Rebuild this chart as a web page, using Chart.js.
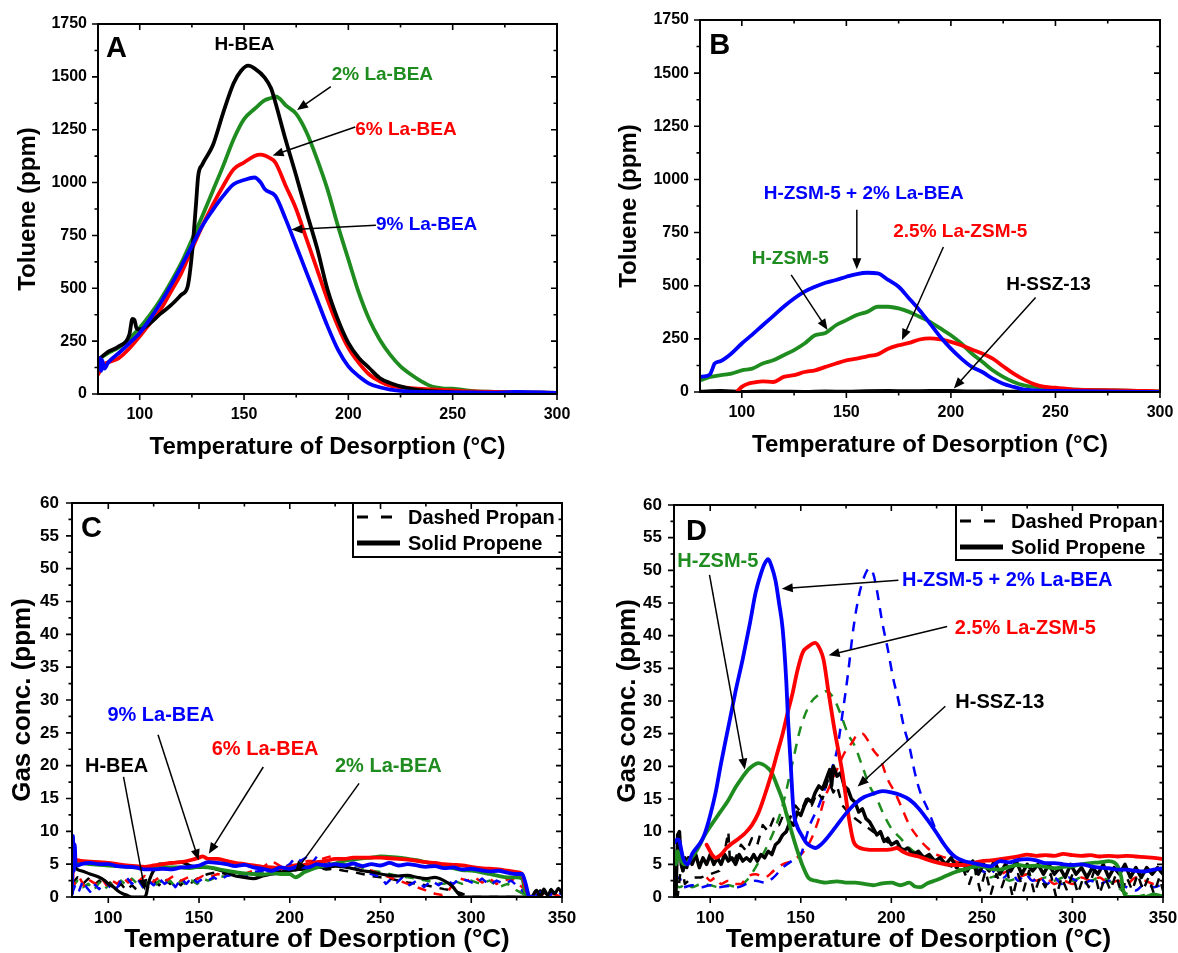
<!DOCTYPE html>
<html><head><meta charset="utf-8">
<script src="https://cdn.jsdelivr.net/npm/chart.js@4.4.1/dist/chart.umd.min.js"></script>
<style>
html,body{margin:0;padding:0;background:#fff;}
body{width:1178px;height:953px;position:relative;overflow:hidden;}
canvas{position:absolute;}
</style></head><body>
<canvas id="cA" width="589" height="470" style="left:0px;top:0px;width:589px;height:470px"></canvas>
<canvas id="cB" width="589" height="470" style="left:589px;top:0px;width:589px;height:470px"></canvas>
<canvas id="cC" width="589" height="480" style="left:0px;top:476px;width:589px;height:480px"></canvas>
<canvas id="cD" width="589" height="480" style="left:589px;top:476px;width:589px;height:480px"></canvas>
<script>
// ---------------- DATA: [temperature (°C), concentration (ppm)] ----------------
// Panel A – toluene
const A_HBEA = [[81,170],[85,200],[90,226],[95,280],[96.5,355],[97.5,350],[98.5,310],[100,305],[105,335],[110,380],[115,420],[120,470],[123,510],[125,660],[127,900],[128,1030],[130,1085],[135,1175],[140,1330],[145,1470],[148.6,1529],[152,1553],[155,1540],[160,1495],[163,1445],[165,1380],[170,1200],[175,1032],[180,858],[185,690],[190,494],[195,352],[200,242],[205,171],[210,123],[215,76],[220,52],[225,36],[230,24],[240,13],[250,8],[260,6],[280,4],[300,3]];
const A_La2 = [[82,175],[85,195],[90,220],[95,262],[100,313],[105,375],[110,447],[115,530],[120,621],[125,730],[130,842],[135,960],[140,1079],[145,1205],[150,1300],[155,1348],[160,1390],[163,1400],[165,1407],[167,1398],[170,1365],[175,1325],[180,1237],[185,1111],[190,968],[195,795],[200,637],[205,479],[210,352],[215,258],[220,186],[225,131],[230,92],[235,60],[240,35],[245,27],[250,25],[260,13],[270,10],[280,8],[300,5]];
const A_La6 = [[80,92],[81,110],[82,135],[85,150],[90,170],[95,215],[100,273],[105,335],[110,400],[115,485],[120,573],[125,685],[130,795],[135,895],[140,984],[145,1063],[150,1095],[155,1126],[158,1132],[162,1118],[165,1095],[170,984],[175,874],[180,731],[185,589],[190,447],[195,321],[200,218],[205,147],[210,92],[215,60],[220,39],[230,28],[240,22],[250,17],[260,12],[280,8],[300,5]];
const A_La9 = [[80.5,120],[81,170],[81.5,110],[82,160],[83,120],[85,150],[90,194],[95,240],[100,289],[105,355],[110,431],[115,515],[120,605],[125,700],[130,795],[135,870],[140,937],[145,992],[150,1012],[155,1024],[158,1000],[160,968],[165,937],[170,826],[175,700],[180,573],[185,447],[190,321],[195,210],[200,131],[205,84],[210,49],[215,32],[220,21],[230,11],[250,8],[270,6],[280,10],[300,5]];
// Panel B – toluene
const B_HZSM5_LaBEA = [[80,71],[83,75],[85,86],[86,110],[87,134],[90,146],[95,181],[100,228],[105,270],[110,314],[115,357],[120,401],[125,440],[130,472],[135,495],[140,514],[145,527],[150,542],[155,555],[160,561],[165,558],[170,527],[175,495],[180,440],[185,385],[190,322],[195,259],[200,204],[205,157],[210,118],[215,94],[220,63],[225,39],[230,24],[235,11],[240,8],[250,5],[260,4],[280,2],[300,0]];
const B_HZSM5 = [[80,55],[85,71],[90,79],[95,86],[100,102],[105,110],[110,134],[115,149],[120,173],[125,197],[130,228],[135,267],[140,278],[145,314],[150,338],[155,362],[160,377],[165,401],[170,401],[175,393],[180,377],[185,354],[190,330],[195,299],[200,267],[205,228],[210,181],[215,142],[220,102],[225,71],[230,47],[235,31],[240,24],[250,16],[260,11],[280,8],[300,2]];
const B_LaZSM5 = [[98,5],[100,24],[103,39],[106,45],[110,50],[115,47],[120,71],[125,79],[130,94],[135,102],[140,118],[145,134],[150,149],[155,157],[160,168],[165,177],[170,204],[175,220],[180,231],[185,247],[190,252],[195,247],[200,236],[205,220],[210,200],[215,181],[220,157],[225,121],[230,86],[235,58],[240,36],[245,24],[250,20],[255,16],[260,11],[280,8],[300,3]];
const B_HSSZ13 = [[80,3],[90,6],[100,2],[110,4],[120,3],[130,2],[140,4],[150,3],[160,5],[170,6],[180,5],[190,7],[200,6],[210,4],[220,5],[230,3],[240,4],[250,2],[260,3],[280,2],[300,1]];
// Panel C – BEA series, propene (solid) and propane (dashed)
const C_La9_propene = [[80,0.5],[80.5,9.3],[81,4],[81.5,8],[82,5],[83,4.8],[85,5],[90,5.2],[95,5],[100,5],[105,4.7],[110,4.6],[115,4.5],[120,4.2],[125,4.2],[130,4.3],[135,4.2],[140,4.5],[145,4.6],[150,4.8],[155,5.3],[160,5.2],[165,5],[170,4.7],[175,4.9],[180,4.5],[185,4.3],[190,4],[195,4.5],[200,4.3],[205,4.7],[210,4.5],[215,5],[220,4.8],[225,5],[230,4.8],[235,5.1],[240,4.7],[245,5],[250,4.8],[255,5.2],[260,4.8],[265,5],[270,4.8],[275,4.6],[280,4.7],[285,4.4],[290,4.5],[295,4.2],[300,4.3],[305,4.1],[310,3.9],[315,4],[320,3.7],[325,3.5],[328,3.5],[330,2],[332,0],[334,0]];
const C_La6_propene = [[80,2],[81,5.5],[83,5.6],[85,5.5],[90,5.4],[95,5.3],[100,5.2],[105,5],[110,4.8],[115,4.7],[120,4.6],[125,4.8],[130,5],[135,5.2],[140,5.3],[145,5.6],[150,6],[152,6.2],[155,5.8],[160,5.8],[165,5.5],[170,5.2],[175,5],[180,4.8],[185,4.6],[190,4.5],[195,4.4],[200,4.5],[205,4.7],[210,5],[215,5.3],[220,5.5],[225,5.8],[230,5.8],[235,6],[240,6],[245,6],[250,6],[255,5.9],[260,5.8],[265,5.7],[270,5.5],[275,5.3],[280,5.2],[285,5],[290,4.9],[295,4.8],[300,4.6],[305,4.4],[310,4.3],[315,4.2],[320,4],[325,3.8],[328,3.5],[330,1.5],[332,0]];
const C_La2_propene = [[80,5],[82,5.3],[85,5.2],[90,5],[95,4.9],[100,4.8],[105,4.7],[110,4.6],[115,4.5],[120,4.4],[125,4.4],[130,4.5],[135,4.5],[140,4.5],[145,4.4],[150,4.6],[155,4.5],[160,4.3],[165,4],[170,3.8],[175,3.6],[180,3.5],[185,3.4],[190,3.6],[195,3.5],[200,3.5],[203,3],[205,3.2],[208,3.8],[210,4],[215,4.5],[220,4.8],[225,5.1],[230,5.5],[235,5.7],[240,5.9],[245,6],[250,6.2],[255,6.1],[260,6],[265,5.8],[270,5.6],[275,5.3],[280,5],[285,4.8],[290,4.4],[295,4.1],[300,4],[305,3.8],[310,3.5],[315,3.2],[320,3],[325,3],[328,2.8],[330,0]];
const C_HBEA_propene = [[80,5.5],[81,6],[82,4.5],[85,4],[90,3.5],[95,3],[98,2.5],[100,2],[103,1.5],[105,1],[108,0.5],[110,0.3],[113,0],[115,0],[118,0],[120,0],[121,0.5],[122,2],[124,3.5],[126,4.5],[128,5],[130,5],[135,5.2],[140,5.3],[145,4.8],[150,4.5],[155,4.5],[160,4.2],[165,3.8],[170,3.2],[175,3],[180,2.8],[185,3.2],[190,3.5],[195,3.8],[200,4],[205,4.2],[210,4.3],[215,4.5],[220,4.5],[225,4.7],[230,4.6],[235,4.3],[240,4],[245,3.8],[250,3.5],[255,3.3],[260,3.2],[265,3.3],[270,3],[275,2.8],[280,3],[285,2.5],[288,2],[290,1.5],[292,0.8],[294,0.2],[296,0],[333,0],[336,1],[338,0],[340,1.2],[342,0.3],[344,1],[346,0.5],[348,1.3],[350,0.5]];
const C_La9_propane = [[80,0.5],[82,2],[84,1],[86,2.5],[88,1.5],[90,0.8],[92,2],[95,1.2],[98,2.5],[101,1.5],[104,1],[107,2.5],[110,3],[113,2],[116,2.8],[119,1.5],[122,2.5],[125,1.8],[128,2.8],[131,2],[134,2.5],[137,1.5],[140,2.8],[143,2],[146,3],[149,2.2],[152,2.8],[155,2.5],[158,3],[161,2.5],[165,3.2],[170,3.5],[175,3],[180,3.8],[185,4],[190,3.5],[195,4.2],[200,5],[203,6],[206,5.5],[209,6],[212,5],[215,6.2],[220,5],[225,5.5],[230,4.8],[235,4.5],[240,4],[245,3.5],[250,3],[253,2],[256,2.8],[259,2.2],[262,3],[266,1.8],[270,2.5],[274,1.5],[278,2.5],[282,1.8],[286,2.5],[290,2],[294,2.8],[298,2.5],[302,2],[306,2.8],[310,1.8],[314,2.5],[318,2],[322,2.5],[326,1.5],[330,0.5],[334,0],[340,1],[343,0],[346,1.2],[350,0.3]];
const C_La6_propane = [[80,1],[82,2.5],[84,3],[87,1.5],[90,2.5],[93,2],[96,3],[99,1.8],[102,2.5],[105,2],[108,3],[111,2.2],[114,3],[117,2.5],[120,3.2],[124,2.2],[128,3],[132,2.5],[136,3.2],[140,2.5],[144,3],[148,2.6],[152,3.2],[156,3],[160,3.5],[165,3.2],[170,3.8],[175,3.5],[180,4],[185,4.5],[190,5.5],[193,5],[196,4.5],[200,4.8],[205,5],[210,5.5],[215,5.5],[220,6],[224,6.3],[228,5.8],[232,5.5],[236,5],[240,4.5],[245,4],[250,3.5],[255,3],[260,2.5],[265,2],[270,1.5],[275,1],[280,0.5],[284,0.3],[287,0.8],[290,2],[294,2.8],[298,2.5],[302,3],[306,2.2],[310,2.8],[314,2],[318,2.5],[322,2.8],[326,2],[330,1],[334,0.5],[340,0.2],[345,0.5],[350,0]];
const C_La2_propane = [[80,1.5],[83,2.5],[86,1.5],[89,2],[92,1],[95,2.2],[98,1.2],[101,2],[104,1.5],[107,2.5],[110,1.8],[113,2.8],[116,2],[119,1.5],[122,2.2],[125,1.5],[128,2.5],[131,1.8],[134,2.5],[137,1.5],[140,2.5],[143,1.8],[146,2.5],[149,2],[152,2.8],[155,2.5],[160,3],[165,3.2],[170,3.5],[175,3.2],[180,3.5],[185,3.8],[190,3.6],[195,3.8],[200,4],[205,4.2],[210,4.5],[215,4.8],[220,5],[225,5.2],[230,5],[235,4.8],[240,4.5],[245,4],[250,3.8],[255,3.5],[260,3.2],[265,3],[270,2.8],[275,2.5],[280,2.2],[285,2],[290,2.5],[295,2],[300,2.5],[305,2],[310,2.5],[315,1.5],[320,2],[325,1],[330,0.3],[335,0],[350,0]];
const C_HBEA_propane = [[80,2],[83,3],[86,2],[89,2.8],[92,1.8],[95,2.5],[98,1.5],[101,2.2],[104,1.2],[107,2],[110,1],[113,1.8],[116,1],[119,2],[122,1.5],[125,2.5],[128,1.8],[131,2.8],[134,2],[137,2.5],[140,1.8],[143,2.8],[146,2.2],[150,3],[155,3.5],[160,3.8],[165,3.5],[170,3.2],[175,3],[180,3.2],[185,3.5],[190,3.8],[195,4],[200,4.2],[205,4.5],[210,4.3],[215,4.5],[220,4.2],[225,4.3],[230,4],[235,3.8],[240,3.5],[245,3.2],[250,3],[255,2.8],[260,2.5],[265,2.2],[270,2],[275,1.8],[280,1.5],[285,1.2],[290,1],[295,0.5],[300,0],[335,0],[338,1],[341,0.2],[344,1.2],[347,0.3],[350,1]];
// Panel D – ZSM-5 / SSZ-13 series
const D_HZSM5_LaBEA_propene = [[80,8.3],[82,8.8],[83,8.5],[85,6],[87.5,5],[90,6.6],[95,8.5],[97,9.7],[100,12.5],[103,16],[106,20.5],[110,26],[114,31.5],[118,36.5],[122,42],[125,46.5],[128,49.5],[130,51],[132,51.7],[134,50.5],[136,48.5],[138,45],[140,41],[142,33],[143,27],[144.3,21],[146,13.2],[148,10.8],[150,9.7],[153,8.3],[156,7.7],[158,7.5],[161,8],[165,9.2],[170,11],[175,12.8],[180,14.3],[185,15.3],[190,15.8],[195,16.2],[200,16],[205,15.6],[210,14.9],[215,13.6],[220,11.8],[225,9.8],[230,7.7],[235,6.2],[240,5.5],[245,5.2],[250,4.9],[255,4.7],[260,5.5],[265,5.3],[270,5.7],[275,5.8],[280,5.6],[285,5.2],[290,5.2],[295,5],[300,4.9],[305,5],[310,4.7],[315,4.5],[320,4.4],[325,4.2],[330,4.2],[335,4],[340,3.9],[345,4.2],[350,4.4]];
const D_LaZSM5_propene = [[98,8],[99,7.5],[101,6.5],[103,6],[106,6.5],[109,7.5],[112,8.2],[116,9],[119,9.7],[123,11],[126.5,12.8],[130,15.5],[134,19],[137,22],[140,25],[143,28.5],[145.5,31.2],[148,34.5],[151,37.4],[154,38.3],[158,38.9],[160.5,38],[162.6,36.3],[165.4,31.2],[169,25],[173,19],[176.5,12.2],[179,8.6],[182,7.6],[186,7.3],[190,7.2],[195,7.2],[200,7.3],[203,7.5],[206,7],[210,6.5],[215,6.2],[220,5.7],[225,5.3],[230,5],[235,4.9],[240,4.9],[245,5.2],[250,5.5],[255,5.6],[260,5.8],[265,6],[270,6.2],[275,6.5],[280,6.3],[285,6.4],[290,6.3],[295,6.6],[300,6.4],[305,6.3],[310,6.4],[315,6.2],[320,6.3],[325,6.2],[330,6.3],[335,6.2],[340,6.1],[345,6],[350,5.8]];
const D_HZSM5_propene = [[80,7],[81,5],[82,7],[84,5.5],[86,5],[88,5.5],[91,6.5],[93.3,7.5],[97,9.5],[101,11.2],[105,12.8],[110,14.8],[114,16.8],[117.7,18.3],[121,19.5],[124,20.2],[126.6,20.5],[129,20.3],[132,19.7],[134,19],[137,17],[140,14.8],[142,12.8],[144.3,10.6],[146.5,8.5],[148.7,6.6],[151,4.8],[154.3,2.9],[158,2.5],[163.7,2.2],[170,2.4],[175,2.2],[180,2.2],[185,2],[190,1.8],[195,2.1],[200,2.2],[205,1.8],[210,2.2],[213,1.6],[216,1.5],[220,2.1],[225,2.6],[230,3.2],[235,3.8],[240,4.2],[245,4.6],[250,4.7],[255,4.3],[260,4.2],[265,4.6],[270,4.9],[275,4.7],[280,4.8],[285,4.6],[290,4.4],[295,4.6],[300,4.7],[305,5],[310,5.2],[315,5.3],[320,5.5],[323,5.3],[325,4.7],[327,3],[328,1.1],[330,0],[335,0],[340,0],[345,0.4],[348,0.2],[350,0.1]];
const D_HSSZ13_propene = [[80,7],[81,0],[82,9.5],[83,10],[84,5],[85,4],[86,6],[87,4.5],[88,6],[90,5],[92,6.5],[94,4.5],[96,6],[98,5],[100,6.5],[102,5],[104,6],[106,5],[108,6.5],[110,5.5],[112,6],[114,5],[116,6.5],[118,5.5],[120,6],[122,5.5],[124,6.5],[126,5.5],[128,6.5],[130,6],[132,7],[134,6.5],[136,8],[138,8.5],[140,9.5],[142,10],[144,11.5],[146,11],[148,13],[150,12.5],[152,14],[154,15],[156,14.5],[158,16],[160,17],[162,16.5],[164,18],[166,19.5],[167,17],[168,20],[170,18.5],[172,19],[174,17],[176,16.5],[178,15],[180,14.5],[182,13],[184,13.5],[186,12],[188,11.5],[190,10.5],[192,9.5],[194,10],[196,8.5],[198,9],[200,8],[203,8.5],[206,7],[209,7.5],[212,6.5],[215,7],[218,6],[221,6.5],[224,5.5],[227,6],[230,5],[233,6],[236,4.5],[239,5.5],[242,4],[245,5.5],[248,3.5],[251,5],[254,4],[257,5.5],[260,3.5],[263,5],[266,4],[269,5.5],[272,3.5],[275,5],[278,4],[281,5],[284,3.5],[287,5],[290,3.5],[293,4.5],[296,3],[299,5],[302,3.5],[305,4.5],[308,3],[311,4.5],[314,3.5],[317,5],[320,3],[323,4.5],[326,3.5],[329,5],[332,3],[335,4.5],[338,3],[341,4.5],[344,3.5],[347,4.5],[350,3.5]];
const D_HZSM5_LaBEA_propane = [[80,2.5],[83,3],[85,1.5],[90,1.8],[95,1.5],[100,1.8],[105,1.5],[110,1.7],[115,1.5],[120,2],[125,2.5],[130,2.2],[135,3],[140,4.5],[145,5.5],[150,6.5],[155,11],[160,14],[165,18],[170,22.5],[173,28],[176,34],[179,41],[182,46],[185,49],[188,50.3],[190,49.5],[192,47],[195,42],[198,38],[201,33.5],[204,30],[207,26],[210,23],[213,19],[216,16],[220,13.5],[225,10],[230,7.5],[235,6],[240,5],[245,4.5],[250,4],[255,3.5],[258,4.5],[262,3],[266,4],[270,2.5],[274,3.5],[278,2.5],[282,3],[286,2],[290,3],[294,2],[298,3],[302,2.5],[306,2],[310,2.5],[315,2],[320,2.5],[325,2],[330,1.5],[335,1],[340,2],[345,1.5],[350,2]];
const D_LaZSM5_propane = [[98,3],[100,2.5],[103,3],[106,2],[110,2.5],[113,2],[117,2],[120,3],[125,3.5],[130,3],[135,4],[140,5],[145,5.5],[150,6.5],[153,7.5],[156,9],[160,12],[163,15],[166,17],[170,19.5],[174,22],[178,23.5],[182,25],[184,25],[187,24],[190,22.5],[194,21],[198,18],[202,16],[206,13.5],[210,11],[215,9],[220,7.5],[225,6.5],[230,6],[235,5.5],[240,5],[245,4.5],[250,4],[255,4.5],[260,3.5],[265,4],[270,3],[275,3.5],[280,2.5],[285,3],[290,2],[295,2.5],[300,2],[305,3],[310,2.5],[315,3],[320,2],[325,2.5],[330,2],[335,3],[340,2.5],[345,2],[350,2.5]];
const D_HZSM5_propane = [[80,2],[83,1.5],[87,2],[90,1.5],[95,2],[100,1.8],[105,1.5],[110,1.8],[115,1.5],[120,2.5],[125,4.5],[130,7],[135,10],[140,14],[145,20],[150,26],[155,29.5],[160,31],[164,31.5],[168,30.5],[172,28],[176,25],[180,23],[184,20],[188,17],[192,15],[196,12.5],[200,10.5],[205,9],[210,7.5],[215,6.5],[220,6],[225,5.5],[230,5],[235,4.5],[240,4],[245,3.5],[250,4],[255,3],[260,3.5],[265,2.5],[270,3],[275,3.5],[280,2.5],[285,3],[290,2.5],[295,3],[300,2.5],[305,3],[310,2.5],[315,3],[320,2.5],[325,1.5],[330,0.5],[335,0],[340,0.3],[345,0],[350,0.3]];
const D_HSSZ13_propane = [[80,3],[82,0],[84,5],[86,2],[90,3],[95,3],[100,3.5],[105,4],[108,7],[110,10],[111,5],[114,6],[117,8],[120,7],[123,9],[126,8],[129,11],[132,10],[135,12],[138,11],[141,13],[144,12],[147,14],[150,13],[153,15],[156,14],[159,16],[162,15],[165,18],[168,16],[170,17],[173,14],[176,13],[180,12],[185,11],[190,10],[195,9],[200,8],[205,7.5],[210,7],[215,6.5],[220,6],[225,5.5],[230,5],[235,4.5],[240,4],[243,2],[246,4.5],[249,1],[252,4],[255,0.5],[258,3.5],[261,1.5],[264,4],[267,0],[270,3.5],[273,1],[276,4],[279,0.5],[282,3],[285,1.5],[288,3.5],[291,0],[294,3],[297,1],[300,3.5],[303,0.5],[306,3],[309,1.5],[312,4],[315,0.5],[318,3],[321,1],[324,3.5],[327,0.5],[330,3],[333,1],[336,3.5],[339,1],[342,3],[345,0.5],[348,3],[350,1]];

// ---------------- TICKS ----------------
const AB_xTicks = [100,150,200,250,300];
const AB_xMinor = [125,175,225,275];
const AB_yTicks = [0,250,500,750,1000,1250,1500,1750];
const AB_yMinor = [125,375,625,875,1125,1375,1625];
const CD_xTicks = [100,150,200,250,300,350];
const CD_xMinor = [125,175,225,275,325];
const CD_yTicks = [0,5,10,15,20,25,30,35,40,45,50,55,60];
const CD_yMinor = [2.5,7.5,12.5,17.5,22.5,27.5,32.5,37.5,42.5,47.5,52.5,57.5];

const X_TITLE = 'Temperature of Desorption (°C)';
const FONT = '"Liberation Sans", Arial, Helvetica, sans-serif';
const BLACK = '#000000', GREEN = '#1f8c1f', RED = '#ff0000', BLUE = '#0000ff';

Chart.defaults.font.family = FONT;
Chart.defaults.color = '#000';

function drawArrow(ctx, x1, y1, x2, y2) {
  const a = Math.atan2(y2 - y1, x2 - x1), L = 11, W = 4.5;
  ctx.beginPath(); ctx.moveTo(x1, y1); ctx.lineTo(x2 - 6 * Math.cos(a), y2 - 6 * Math.sin(a)); ctx.stroke();
  ctx.beginPath(); ctx.moveTo(x2, y2);
  ctx.lineTo(x2 - L * Math.cos(a) + W * Math.sin(a), y2 - L * Math.sin(a) - W * Math.cos(a));
  ctx.lineTo(x2 - L * Math.cos(a) - W * Math.sin(a), y2 - L * Math.sin(a) + W * Math.cos(a));
  ctx.closePath(); ctx.fill();
}

const decor = {
  id: 'decor',
  afterDatasetsDraw(chart, args, o) {
    const {ctx, chartArea: ca, scales: {x, y}} = chart;
    ctx.save();
    ctx.strokeStyle = '#000'; ctx.fillStyle = '#000';
    ctx.lineWidth = 2;
    ctx.strokeRect(ca.left, ca.top, ca.right - ca.left, ca.bottom - ca.top);
    ctx.lineWidth = 1.6;
    const tick = (vals, len, axis) => {
      vals.forEach(v => {
        ctx.beginPath();
        if (axis === 'x') {
          const px = x.getPixelForValue(v);
          ctx.moveTo(px, ca.bottom); ctx.lineTo(px, ca.bottom + len);
          ctx.moveTo(px, ca.top); ctx.lineTo(px, ca.top + len);
        } else {
          const py = y.getPixelForValue(v);
          ctx.moveTo(ca.left, py); ctx.lineTo(ca.left - len, py);
          ctx.moveTo(ca.right, py); ctx.lineTo(ca.right - len, py);
        }
        ctx.stroke();
      });
    };
    tick(o.xTicks, 6, 'x'); tick(o.xMinor, 3.5, 'x');
    tick(o.yTicks, 6, 'y'); tick(o.yMinor, 3.5, 'y');
    ctx.font = 'bold 29px ' + FONT;
    ctx.textAlign = 'center'; ctx.textBaseline = 'middle';
    ctx.fillText(o.letter, ca.left + o.letterOff[0], ca.top + o.letterOff[1]);
    if (o.legend) {
      const L = o.legend;
      const bx = ca.right - L.w, by = ca.top;
      ctx.lineWidth = 2;
      ctx.strokeRect(bx, by, L.w, L.h);
      ctx.lineWidth = 3;
      ctx.setLineDash([11, 13]);
      ctx.beginPath(); ctx.moveTo(bx + 4, by + L.r1); ctx.lineTo(bx + 42, by + L.r1); ctx.stroke();
      ctx.setLineDash([]);
      ctx.lineWidth = 5;
      ctx.beginPath(); ctx.moveTo(bx + 4, by + L.r2); ctx.lineTo(bx + 47, by + L.r2); ctx.stroke();
      ctx.font = 'bold 20px ' + FONT;
      ctx.textAlign = 'left';
      ctx.fillText('Dashed Propan', bx + L.tx, by + L.r1 + 1);
      ctx.fillText('Solid Propene', bx + L.tx, by + L.r2 + 1);
    }
    ctx.font = 'bold ' + o.annSize + 'px ' + FONT;
    ctx.textAlign = 'center'; ctx.textBaseline = 'middle';
    o.labels.forEach(l => {
      ctx.fillStyle = l.color;
      ctx.fillText(l.text, x.getPixelForValue(l.x), y.getPixelForValue(l.y));
    });
    ctx.fillStyle = '#000'; ctx.strokeStyle = '#000'; ctx.lineWidth = 1.5;
    o.arrows.forEach(a => {
      drawArrow(ctx, x.getPixelForValue(a[0]), y.getPixelForValue(a[1]), x.getPixelForValue(a[2]), y.getPixelForValue(a[3]));
    });
    ctx.restore();
  }
};

function build(id, P) {
  const datasets = P.series.map(s => ({
    data: s.pts.map(p => ({x: p[0], y: p[1]})),
    borderColor: s.color, backgroundColor: s.color,
    borderWidth: s.w, borderDash: s.dash || [],
    pointRadius: 0, fill: false,
    tension: s.noisy ? 0 : 0.4,
    cubicInterpolationMode: s.noisy ? 'default' : 'monotone',
    borderCapStyle: s.dash ? 'butt' : 'round', borderJoinStyle: 'round'
  }));
  new Chart(document.getElementById(id), {
    type: 'line',
    data: {datasets},
    options: {
      responsive: false, animation: false, events: [],
      layout: {padding: P.pad},
      plugins: {legend: {display: false}, tooltip: {enabled: false}, decor: P.decor},
      scales: {
        x: {
          type: 'linear', min: P.xMin, max: P.xMax,
          afterBuildTicks: s => { s.ticks = P.decor.xTicks.map(v => ({value: v})); },
          afterFit: s => { s.height = P.xH; },
          grid: {display: false, drawTicks: true, tickLength: P.xTickPad}, border: {display: false},
          ticks: {color: '#000', font: {size: P.tickSize, weight: 'bold'}, padding: 0, maxRotation: 0, autoSkip: false, callback: v => String(v)},
          title: {display: true, text: X_TITLE, color: '#000', font: {size: P.titleSize, weight: 'bold'}, padding: {top: 0, bottom: P.xTitlePad}}
        },
        y: {
          type: 'linear', min: P.yMin, max: P.yMax,
          afterBuildTicks: s => { s.ticks = P.decor.yTicks.map(v => ({value: v})); },
          afterFit: s => { s.width = P.yW; },
          grid: {display: false, drawTicks: true, tickLength: P.yTickPad}, border: {display: false},
          ticks: {color: '#000', font: {size: P.tickSize, weight: 'bold'}, padding: 0, autoSkip: false, callback: v => String(v)},
          title: {display: true, text: P.yTitle, color: '#000', font: {size: P.titleSize, weight: 'bold'}, padding: {top: 0, bottom: 0}}
        }
      }
    },
    plugins: [decor]
  });
}

build('cA', {
  pad: {left: 14, right: 32, top: 24, bottom: 0}, yW: 84, xH: 76,
  xMin: 80, xMax: 300, yMin: 0, yMax: 1750,
  tickSize: 16, titleSize: 24, xTickPad: 11, yTickPad: 11, xTitlePad: 8.6,
  yTitle: 'Toluene (ppm)',
  series: [
    {pts: A_La9, color: BLUE, w: 3.8},
    {pts: A_HBEA, color: BLACK, w: 3.8},
    {pts: A_La6, color: RED, w: 3.8},
    {pts: A_La2, color: GREEN, w: 3.8}
  ],
  decor: {
    xTicks: AB_xTicks, xMinor: AB_xMinor, yTicks: AB_yTicks, yMinor: AB_yMinor,
    letter: 'A', letterOff: [18.5, 25], annSize: 19,
    labels: [
      {text: 'H-BEA', color: BLACK, x: 150.2, y: 1652},
      {text: '2% La-BEA', color: GREEN, x: 216.3, y: 1509},
      {text: '6% La-BEA', color: RED, x: 227.6, y: 1252},
      {text: '9% La-BEA', color: BLUE, x: 237.5, y: 801}
    ],
    arrows: [[191.6, 1454, 175.4, 1343], [203.3, 1263, 163.7, 1128], [213.2, 798, 172.7, 778]]
  }
});

build('cB', {
  pad: {left: 25.6, right: 18, top: 20, bottom: 0}, yW: 85.4, xH: 78,
  xMin: 80, xMax: 300, yMin: 0, yMax: 1750,
  tickSize: 16, titleSize: 24, xTickPad: 11, yTickPad: 11, xTitlePad: 10.6,
  yTitle: 'Toluene (ppm)',
  series: [
    {pts: B_HZSM5_LaBEA, color: BLUE, w: 3.8},
    {pts: B_LaZSM5, color: RED, w: 3.8},
    {pts: B_HZSM5, color: GREEN, w: 3.8},
    {pts: B_HSSZ13, color: BLACK, w: 3.2}
  ],
  decor: {
    xTicks: AB_xTicks, xMinor: AB_xMinor, yTicks: AB_yTicks, yMinor: AB_yMinor,
    letter: 'B', letterOff: [19.7, 26.3], annSize: 19,
    labels: [
      {text: 'H-ZSM-5 + 2% La-BEA', color: BLUE, x: 158.3, y: 931},
      {text: '2.5% La-ZSM-5', color: RED, x: 204.5, y: 752},
      {text: 'H-ZSM-5', color: GREEN, x: 123.2, y: 626},
      {text: 'H-SSZ-13', color: BLACK, x: 246.7, y: 504}
    ],
    arrows: [[155, 857, 155, 578], [196.4, 682, 176.6, 245], [123.6, 551, 141, 292], [240.5, 444, 201.4, 17]]
  }
});

build('cC', {
  pad: {left: 7, right: 27, top: 27, bottom: 0}, yW: 65, xH: 59,
  xMin: 80, xMax: 350, yMin: 0, yMax: 60,
  tickSize: 17, titleSize: 26, xTickPad: 11, yTickPad: 13, xTitlePad: 0.4,
  yTitle: 'Gas conc. (ppm)',
  series: [
    {pts: C_La9_propene, color: BLUE, w: 3.8},
    {pts: C_La6_propene, color: RED, w: 3.8},
    {pts: C_La2_propene, color: GREEN, w: 3.8},
    {pts: C_HBEA_propene, color: BLACK, w: 3.2},
    {pts: C_La9_propane, color: BLUE, w: 2.5, dash: [9, 8], noisy: true},
    {pts: C_La6_propane, color: RED, w: 2.5, dash: [9, 8], noisy: true},
    {pts: C_La2_propane, color: GREEN, w: 2.5, dash: [9, 8], noisy: true},
    {pts: C_HBEA_propane, color: BLACK, w: 2.5, dash: [9, 8], noisy: true}
  ],
  decor: {
    xTicks: CD_xTicks, xMinor: CD_xMinor, yTicks: CD_yTicks, yMinor: CD_yMinor,
    letter: 'C', letterOff: [19.4, 26.3], annSize: 20,
    legend: {w: 209, h: 54, r1: 14, r2: 40, tx: 55},
    labels: [
      {text: '9% La-BEA', color: BLUE, x: 128.9, y: 27.7},
      {text: '6% La-BEA', color: RED, x: 186.4, y: 22.4},
      {text: 'H-BEA', color: BLACK, x: 104.6, y: 19.8},
      {text: '2% La-BEA', color: GREEN, x: 254.3, y: 19.8}
    ],
    arrows: [[127.4, 24.7, 149.8, 5.6], [185.4, 19.8, 155.4, 6.6], [108.4, 18.3, 120.2, 1.0], [238.2, 17.3, 203, 3.8]]
  }
});

build('cD', {
  pad: {left: 23, right: 15, top: 29, bottom: 0}, yW: 62, xH: 59,
  xMin: 80, xMax: 350, yMin: 0, yMax: 60,
  tickSize: 17, titleSize: 26, xTickPad: 11, yTickPad: 12, xTitlePad: 0.4,
  yTitle: 'Gas conc. (ppm)',
  series: [
    {pts: D_HZSM5_LaBEA_propene, color: BLUE, w: 3.8},
    {pts: D_LaZSM5_propene, color: RED, w: 3.8},
    {pts: D_HZSM5_propene, color: GREEN, w: 3.8},
    {pts: D_HSSZ13_propene, color: BLACK, w: 3.5, noisy: true},
    {pts: D_HSSZ13_propane, color: BLACK, w: 2.5, dash: [9, 8], noisy: true},
    {pts: D_HZSM5_LaBEA_propane, color: BLUE, w: 2.5, dash: [10, 8]},
    {pts: D_LaZSM5_propane, color: RED, w: 2.5, dash: [10, 8]},
    {pts: D_HZSM5_propane, color: GREEN, w: 2.5, dash: [10, 8]}
  ],
  decor: {
    xTicks: CD_xTicks, xMinor: CD_xMinor, yTicks: CD_yTicks, yMinor: CD_yMinor,
    letter: 'D', letterOff: [22.4, 26.7], annSize: 20,
    legend: {w: 207, h: 55, r1: 16, r2: 42, tx: 55},
    labels: [
      {text: 'H-ZSM-5', color: GREEN, x: 104.2, y: 51.4},
      {text: 'H-ZSM-5 + 2% La-BEA', color: BLUE, x: 264, y: 48.5},
      {text: '2.5% La-ZSM-5', color: RED, x: 274, y: 41.1},
      {text: 'H-SSZ-13', color: BLACK, x: 259.9, y: 29.8}
    ],
    arrows: [[99.6, 49.3, 119.1, 19.5], [203.9, 48.5, 139.5, 47.2], [230.8, 41.4, 165.4, 37], [229.8, 29.2, 181.4, 16.9]]
  }
});
</script>
</body></html>
